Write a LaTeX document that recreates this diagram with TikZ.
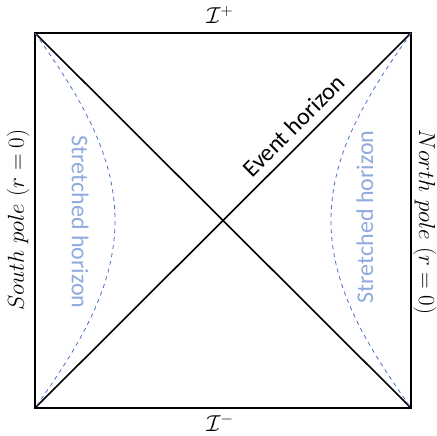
\documentclass[tikz,border=0pt]{standalone}
\usepackage{amsmath,amssymb}
\usepackage{fontspec}
\setsansfont{Carlito}
\usepackage{tikz}
\usetikzlibrary{positioning, calc}
\definecolor{horblue}{RGB}{68,114,196}
\definecolor{labblue}{RGB}{143,170,220}

\begin{document}
\begin{tikzpicture}[
  x=0.75pt, y=-0.75pt,
  every node/.style={font=\fontsize{18}{21}\selectfont, inner sep=0pt},
  boundary/.style={draw=black, line width=1.2pt},
  stretched/.style={draw=horblue, dashed, line width=0.6pt},
  stretchlabel/.style={text=labblue, font=\sffamily\fontsize{18}{21}\selectfont},
  polelabel/.style={font=\fontsize{18}{21}\selectfont}
]
  \useasboundingbox (0,0) rectangle (437,436);
  % Ecken des Diagramms
  \coordinate (TL) at (35,33);
  \coordinate (TR) at (411,33);
  \coordinate (BL) at (35,408);
  \coordinate (BR) at (411,408);
  \coordinate (ML) at (115,220.5);
  \coordinate (MR) at (331,220.5);

  % Rand und Horizonte
  \draw[boundary] (TL) -- (TR) -- (BR) -- (BL) -- cycle;
  \draw[boundary] (TL) -- (BR);
  \draw[boundary] (BL) -- (TR)
    node[pos=0.72, sloped, above=6pt] (EH) {\sffamily Event horizon};

  % gestreckte Horizonte
  \draw[stretched] (TL) .. controls (75,90) and (115,150) .. (ML)
                        .. controls (115,291) and (75,351) .. (BL);
  \draw[stretched] (TR) .. controls (371,90) and (331,150) .. (MR)
                        .. controls (331,291) and (371,351) .. (BR);

  % Beschriftungen
  \node (Iplus)  at (220,15)  {$\mathcal{I}^{+}$};
  \node (Iminus) at (220,423) {$\mathcal{I}^{-}$};
  \node[polelabel, rotate=90]  (south) at (18,220)  {$South\ pole\ (r=0)$};
  \node[polelabel, rotate=-90] (north) at (425,222) {$North\ pole\ (r=0)$};
  \node[stretchlabel, rotate=-90] (SHL) at (80,222)  {Stretched horizon};
  \node[stretchlabel, rotate=90]  (SHR) at (365,217) {Stretched horizon};
\end{tikzpicture}
\end{document}
